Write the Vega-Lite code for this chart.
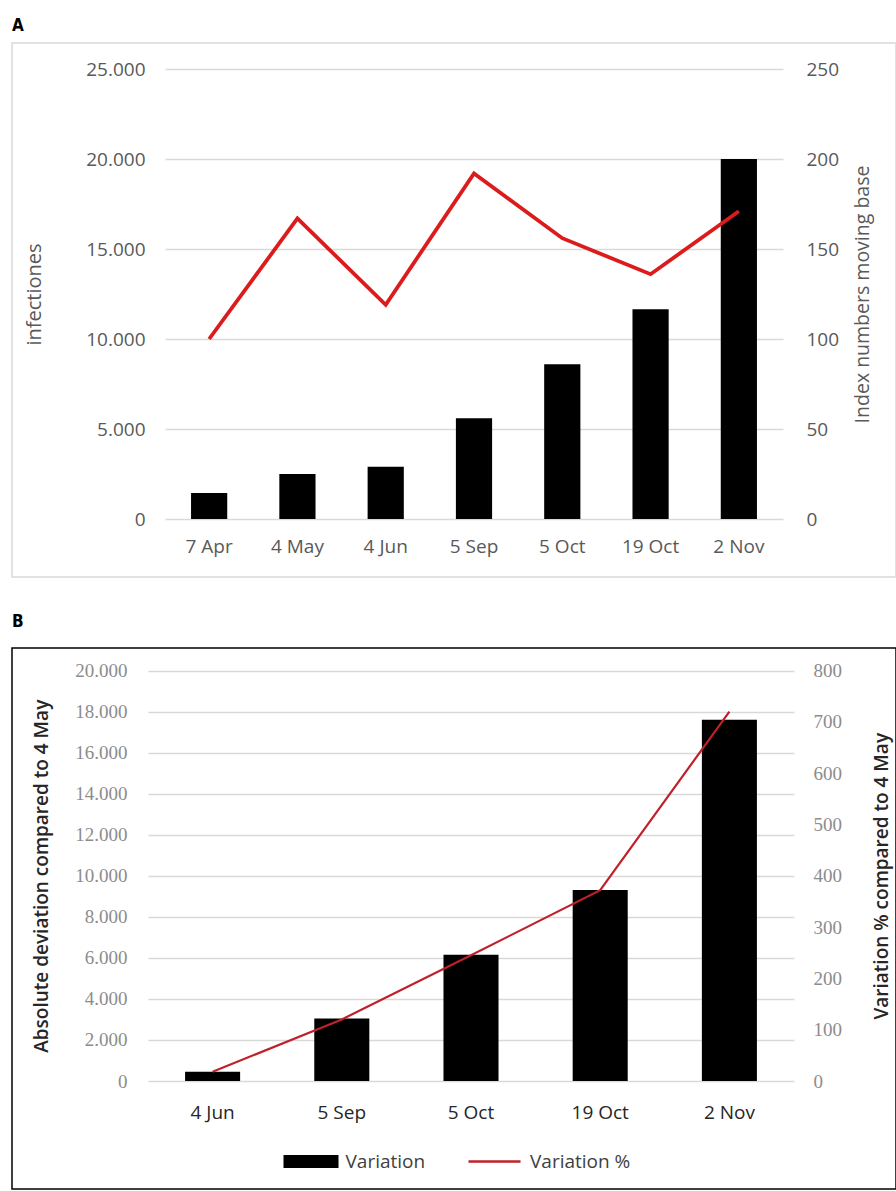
{
  "$schema": "https://vega.github.io/schema/vega-lite/v6.json",
  "padding": {"left": 11, "top": 16, "right": 0, "bottom": 0},
  "spacing": 34,
  "config": {"font": "Open Sans", "bar": {"stroke": null}},
  "resolve": {
    "scale": {"fill": "independent", "stroke": "independent"},
    "legend": {"fill": "independent", "stroke": "independent"}
  },
  "datasets": {
    "infections": [
      {"date": "7 Apr", "infections": 1450, "index": 100},
      {"date": "4 May", "infections": 2500, "index": 167},
      {"date": "4 Jun", "infections": 2900, "index": 119},
      {"date": "5 Sep", "infections": 5600, "index": 192},
      {"date": "5 Oct", "infections": 8600, "index": 156},
      {"date": "19 Oct", "infections": 11650, "index": 136},
      {"date": "2 Nov", "infections": 20000, "index": 171}
    ],
    "variation": [
      {"date": "4 Jun", "variation": 450, "pct": 18},
      {"date": "5 Sep", "variation": 3050, "pct": 120},
      {"date": "5 Oct", "variation": 6150, "pct": 245},
      {"date": "19 Oct", "variation": 9300, "pct": 372},
      {"date": "2 Nov", "variation": 17600, "pct": 720}
    ]
  },
  "vconcat": [
    {
      "title": {"text": "A", "anchor": "start", "frame": "group", "offset": -5, "baseline": "alphabetic", "fontSize": 17, "fontWeight": "bold", "font": "DejaVu Sans Condensed", "color": "#000000"},
      "width": 884,
      "height": 534,
      "view": {"stroke": "#d9d9d9", "strokeWidth": 1.5},
      "data": {"name": "infections"},
      "encoding": {
        "x": {
          "field": "date", "type": "ordinal", "sort": null,
          "scale": {"range": [153, 771], "paddingInner": 0.59, "paddingOuter": 0.295},
          "axis": {"title": null, "orient": "bottom", "offset": -58, "domain": false, "ticks": false, "grid": false, "labelAngle": 0, "labelPadding": 18, "labelFontSize": 19, "labelColor": "#595959"}
        }
      },
      "layer": [
        {
          "mark": {"type": "bar", "color": "#000000"},
          "encoding": {
            "y": {
              "field": "infections", "type": "quantitative",
              "scale": {"domain": [0, 25000], "range": [476, 26], "nice": false},
              "axis": {"orient": "left", "offset": -153, "values": [0, 5000, 10000, 15000, 20000, 25000], "grid": true, "gridColor": "#d9d9d9", "gridWidth": 1.5, "domain": false, "ticks": false, "labelPadding": 20, "labelFontSize": 19, "labelColor": "#595959", "labelExpr": "replace(format(datum.value, ',d'), ',', '.')", "title": "infectiones", "titleX": -131, "titleAngle": 270, "titleBaseline": "middle", "titleFontSize": 20, "titleFontWeight": "normal", "titleColor": "#595959"}
            }
          }
        },
        {
          "mark": {"type": "line", "color": "#dc1c1c", "strokeWidth": 3.8},
          "encoding": {
            "y": {
              "field": "index", "type": "quantitative",
              "scale": {"domain": [0, 250], "range": [476, 26], "nice": false},
              "axis": {"orient": "right", "offset": -113, "values": [0, 50, 100, 150, 200, 250], "grid": false, "domain": false, "ticks": false, "labelPadding": 23, "labelFontSize": 19, "labelColor": "#595959", "title": "Index numbers moving base", "titleX": 79, "titleAngle": 270, "titleBaseline": "middle", "titleFontSize": 19.5, "titleFontWeight": "normal", "titleColor": "#595959"}
            }
          }
        }
      ],
      "resolve": {"scale": {"y": "independent"}}
    },
    {
      "title": {"text": "B", "anchor": "start", "frame": "group", "offset": 4, "baseline": "alphabetic", "fontSize": 17, "fontWeight": "bold", "font": "DejaVu Sans Condensed", "color": "#000000"},
      "width": 884,
      "height": 541,
      "view": {"stroke": "#000000", "strokeWidth": 1.5},
      "data": {"name": "variation"},
      "encoding": {
        "x": {
          "field": "date", "type": "ordinal", "sort": null,
          "scale": {"range": [136, 782], "paddingInner": 0.574, "paddingOuter": 0.287},
          "axis": {"title": null, "orient": "bottom", "offset": -108, "domain": false, "ticks": false, "grid": false, "labelAngle": 0, "labelPadding": 22, "labelFontSize": 19, "labelColor": "#262626"}
        }
      },
      "layer": [
        {
          "mark": {"type": "bar"},
          "encoding": {
            "y": {
              "field": "variation", "type": "quantitative",
              "scale": {"domain": [0, 20000], "range": [433, 22.5], "nice": false},
              "axis": {"orient": "left", "offset": -136, "values": [0, 2000, 4000, 6000, 8000, 10000, 12000, 14000, 16000, 18000, 20000], "grid": true, "gridColor": "#d9d9d9", "gridWidth": 1.5, "domain": false, "ticks": false, "labelPadding": 21, "labelFont": "Liberation Serif", "labelFontSize": 19, "labelColor": "#8c8c8c", "labelExpr": "replace(format(datum.value, ',d'), ',', '.')", "title": "Absolute deviation compared to 4 May", "titleX": -107, "titleAngle": 270, "titleBaseline": "middle", "titleFontSize": 19, "titleFontWeight": 600, "titleColor": "#262626"}
            },
            "fill": {
              "datum": "Variation", "type": "nominal",
              "scale": {"range": ["#000000"]},
              "legend": {"orient": "none", "legendX": 271.5, "legendY": 486, "title": null, "padding": 0, "symbolType": "M-1,-0.24H1V0.24H-1Z", "symbolSize": 3025, "symbolStrokeWidth": 0, "labelOffset": 7, "labelFontSize": 19, "labelColor": "#404040", "labelFont": "Open Sans"}
            }
          }
        },
        {
          "mark": {"type": "line", "strokeWidth": 2.2},
          "encoding": {
            "y": {
              "field": "pct", "type": "quantitative",
              "scale": {"domain": [0, 800], "range": [433, 22.5], "nice": false},
              "axis": {"orient": "right", "offset": -102, "values": [0, 100, 200, 300, 400, 500, 600, 700, 800], "grid": false, "domain": false, "ticks": false, "labelPadding": 19, "labelFont": "Liberation Serif", "labelFontSize": 19, "labelColor": "#8c8c8c", "title": "Variation % compared to 4 May", "titleX": 87, "titleAngle": 270, "titleBaseline": "middle", "titleFontSize": 19, "titleFontWeight": 600, "titleColor": "#262626"}
            },
            "stroke": {
              "datum": "Variation %", "type": "nominal",
              "scale": {"range": ["#c0202a"]},
              "legend": {"orient": "none", "legendX": 455, "legendY": 486, "title": null, "padding": 0, "symbolType": "stroke", "symbolSize": 2704, "symbolStrokeWidth": 2.5, "labelOffset": 8, "labelFontSize": 19, "labelColor": "#404040", "labelFont": "Open Sans"}
            }
          }
        }
      ],
      "resolve": {"scale": {"y": "independent"}}
    }
  ]
}
